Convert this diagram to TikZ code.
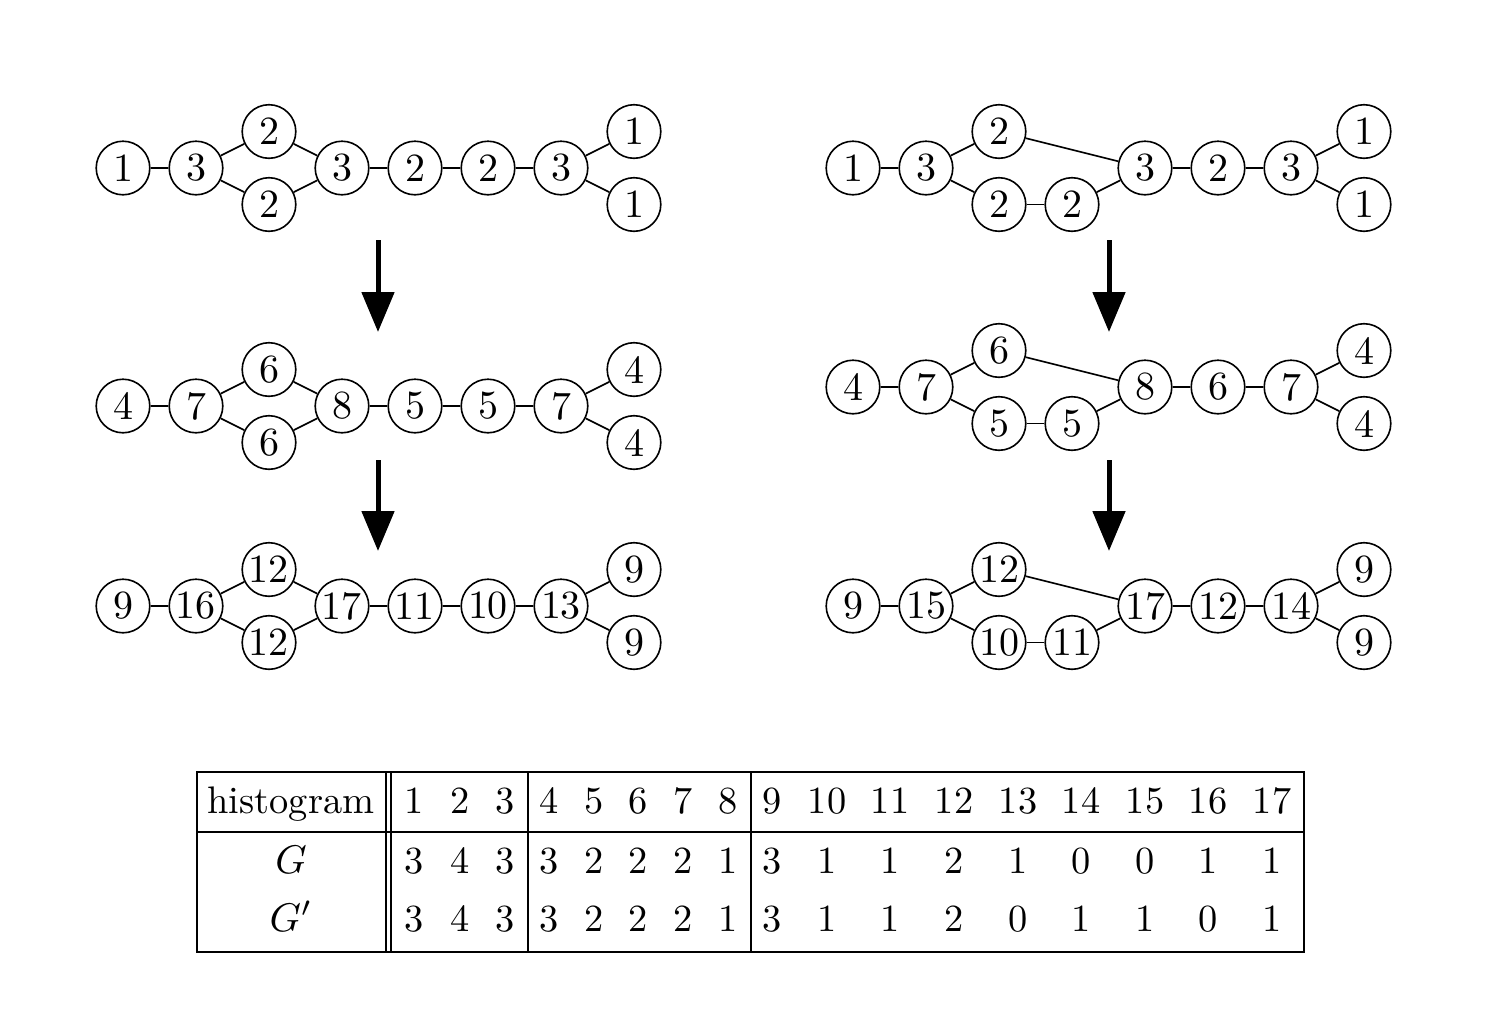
\documentclass[tikz,border=0pt]{standalone}
\usetikzlibrary{arrows.meta}
\begin{document}
\begin{tikzpicture}[x=0.25pt,y=-0.25pt,
  vtx/.style={draw,circle,line width=0.4pt,minimum size=13.4pt,inner sep=0pt,font=\fontsize{10}{12}\selectfont},
  edge/.style={line width=0.4pt},
  bigarrow/.style={line width=1.25pt,-{Triangle[length=10pt,width=8pt]}},
  tline/.style={line width=0.4pt},
  cell/.style={inner sep=0pt,anchor=base,font=\fontsize{9.6}{12}\selectfont}]
\useasboundingbox (0,0) rectangle (1492,1018);
% ---------- left column ----------
\foreach \x/\dy/\lab [count=\i] in {123/0/1,196/0/3,269/-36.5/2,269/36.5/2,342/0/3,415/0/2,488/0/2,561/0/3,634/-36.5/1,634/36.5/1}
  \node[vtx] (A\i) at (\x,168+\dy) {\lab};
\foreach \x/\dy/\lab [count=\i] in {123/0/4,196/0/7,269/-36.5/6,269/36.5/6,342/0/8,415/0/5,488/0/5,561/0/7,634/-36.5/4,634/36.5/4}
  \node[vtx] (B\i) at (\x,406+\dy) {\lab};
\foreach \x/\dy/\lab [count=\i] in {123/0/9,196/0/16,269/-36.5/12,269/36.5/12,342/0/17,415/0/11,488/0/10,561/0/13,634/-36.5/9,634/36.5/9}
  \node[vtx] (C\i) at (\x,606+\dy) {\lab};
\foreach \g in {A,B,C}
  \foreach \a/\b in {1/2,2/3,2/4,3/5,4/5,5/6,6/7,7/8,8/9,8/10}
    \draw[edge] (\g\a) -- (\g\b);
% ---------- right column ----------
\foreach \x/\dy/\lab [count=\i] in {853/0/1,926/0/3,999/-36.5/2,999/36.5/2,1072/36.5/2,1145/0/3,1218/0/2,1291/0/3,1364/-36.5/1,1364/36.5/1}
  \node[vtx] (D\i) at (\x,168+\dy) {\lab};
\foreach \x/\dy/\lab [count=\i] in {853/0/4,926/0/7,999/-36.5/6,999/36.5/5,1072/36.5/5,1145/0/8,1218/0/6,1291/0/7,1364/-36.5/4,1364/36.5/4}
  \node[vtx] (E\i) at (\x,387+\dy) {\lab};
\foreach \x/\dy/\lab [count=\i] in {853/0/9,926/0/15,999/-36.5/12,999/36.5/10,1072/36.5/11,1145/0/17,1218/0/12,1291/0/14,1364/-36.5/9,1364/36.5/9}
  \node[vtx] (F\i) at (\x,606+\dy) {\lab};
\foreach \g in {D,E,F}
  \foreach \a/\b in {1/2,2/3,2/4,4/5,3/6,5/6,6/7,7/8,8/9,8/10}
    \draw[edge] (\g\a) -- (\g\b);
% ---------- arrows ----------
\coordinate (a1s) at (378,240); \coordinate (a1e) at (378,332);
\coordinate (a2s) at (378,460); \coordinate (a2e) at (378,551);
\coordinate (a3s) at (1109,240); \coordinate (a3e) at (1109,332);
\coordinate (a4s) at (1109,460); \coordinate (a4e) at (1109,551);
\draw[bigarrow] (a1s) -- (a1e);
\draw[bigarrow] (a2s) -- (a2e);
\draw[bigarrow] (a3s) -- (a3e);
\draw[bigarrow] (a4s) -- (a4e);
% ---------- table ----------
\draw[tline] (197,772) rectangle (1304,952);
\draw[tline] (197,832) -- (1304,832);
\draw[tline] (386,772) -- (386,952);
\draw[tline] (391,772) -- (391,952);
\draw[tline] (528,772) -- (528,952);
\draw[tline] (751,772) -- (751,952);
\node[cell] (th) at (291,813) {histogram};
\node[cell] (tg) at (291,873) {$G$};
\node[cell] (tgp) at (291,931) {$G'$};
\foreach \x/\h/\g/\gp [count=\i] in {414/1/3/3,460/2/4/4,505/3/3/3,549/4/3/3,594/5/2/2,638/6/2/2,683/7/2/2,728/8/1/1,772/9/3/3,827/10/1/1,890/11/1/1,954/12/2/2,1018/13/1/0,1081/14/0/1,1145/15/0/1,1208/16/1/0,1272/17/1/1}{
  \node[cell] (h\i) at (\x,813) {\h};
  \node[cell] (g\i) at (\x,873) {\g};
  \node[cell] (p\i) at (\x,931) {\gp};
}
\end{tikzpicture}
\end{document}
